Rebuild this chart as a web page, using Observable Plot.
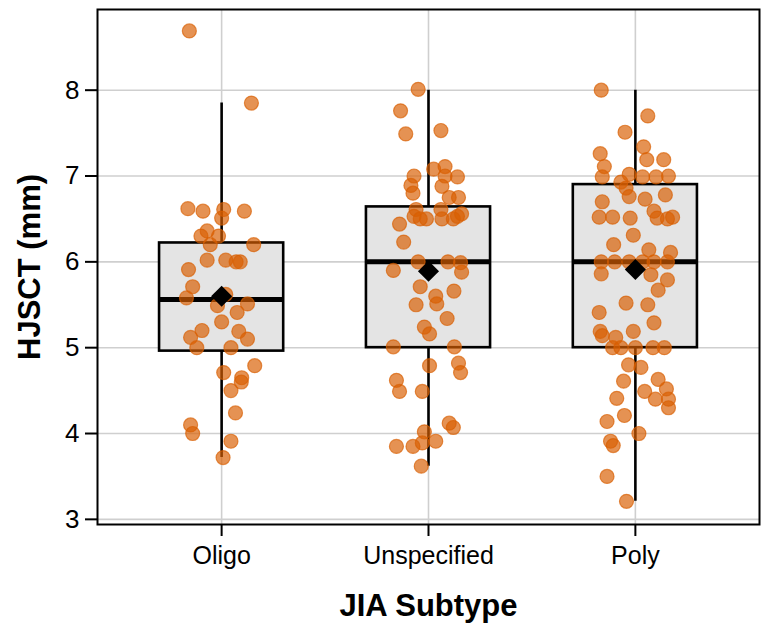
<!DOCTYPE html>
<html>
<head>
<meta charset="utf-8">
<script src="https://cdn.jsdelivr.net/npm/d3@7"></script>
<script src="https://cdn.jsdelivr.net/npm/@observablehq/plot@0.6"></script>
<style>
  body { margin: 0; background: #fff; }
  svg { display: block; }
</style>
</head>
<body>
<div id="chart"></div>
<script>
// JIA subtypes on the x axis
const subtypes = ["Oligo", "Unspecified", "Poly"];
const yTicks = [3, 4, 5, 6, 7, 8];

// HJSCT measurements (mm) per subtype, with the horizontal jitter of each point
// (in category units)
const oligoValues = [8.69, 7.85, 6.62, 6.59, 6.61, 6.51, 6.59, 6.36, 6.30, 6.30, 6.20, 6.20, 6.02, 6.02, 6.00, 6.00, 5.91, 5.71, 5.58, 5.62, 5.49, 5.51, 5.41, 5.30, 5.20, 5.12, 5.19, 5.10, 5.00, 5.00, 4.71, 4.79, 4.65, 4.60, 4.50, 4.24, 4.10, 4.00, 3.91, 3.72];
const oligoJitter = [-0.156, 0.144, -0.163, -0.09, 0.01, 0.0, 0.11, -0.07, -0.10, -0.015, -0.055, 0.155, -0.07, 0.02, 0.07, 0.09, -0.16, -0.14, -0.17, 0.02, -0.02, 0.125, 0.075, 0.0, -0.095, -0.15, 0.083, 0.125, -0.12, 0.045, 0.01, 0.16, 0.097, 0.095, 0.045, 0.067, -0.15, -0.14, 0.045, 0.007];

const unspecValues = [8.01, 7.76, 7.49, 7.53, 7.08, 7.11, 7.00, 7.00, 6.99, 6.89, 6.80, 6.88, 6.75, 6.75, 6.61, 6.53, 6.50, 6.61, 6.50, 6.50, 6.56, 6.53, 6.50, 6.44, 6.23, 6.00, 5.90, 6.00, 5.99, 5.88, 5.71, 5.66, 5.60, 5.50, 5.51, 5.34, 5.24, 5.16, 5.01, 5.01, 4.79, 4.82, 4.71, 4.62, 4.49, 4.49, 4.12, 4.07, 4.02, 3.89, 3.91, 3.85, 3.85, 3.62];
const unspecJitter = [-0.05, -0.135, -0.11, 0.06, 0.025, 0.08, -0.07, 0.08, 0.14, -0.085, -0.075, 0.065, 0.10, 0.145, -0.06, -0.07, -0.01, 0.06, 0.065, 0.12, 0.16, 0.14, -0.04, -0.14, -0.12, -0.05, -0.17, 0.094, 0.155, 0.16, -0.04, 0.123, 0.035, -0.06, 0.04, 0.09, -0.02, 0.005, -0.17, 0.125, 0.005, 0.145, 0.155, -0.155, -0.14, -0.03, 0.10, 0.12, -0.02, -0.03, 0.035, -0.155, -0.075, -0.035];

const polyValues = [8.00, 7.70, 7.51, 7.26, 7.34, 7.11, 7.19, 7.19, 6.99, 7.02, 6.99, 6.99, 7.00, 6.93, 6.86, 6.76, 6.73, 6.78, 6.70, 6.59, 6.52, 6.52, 6.51, 6.51, 6.50, 6.52, 6.31, 6.20, 6.14, 6.11, 6.00, 6.00, 6.00, 6.00, 6.00, 6.00, 5.86, 5.85, 5.79, 5.67, 5.52, 5.50, 5.41, 5.29, 5.19, 5.14, 5.12, 5.19, 5.00, 5.00, 5.00, 5.00, 5.00, 4.80, 4.77, 4.61, 4.63, 4.49, 4.52, 4.41, 4.40, 4.40, 4.30, 4.21, 4.14, 4.00, 3.91, 3.86, 3.50, 3.21];
const polyJitter = [-0.165, 0.06, -0.05, -0.17, 0.04, -0.15, 0.055, 0.137, -0.16, -0.03, 0.035, 0.10, 0.16, -0.07, -0.045, -0.03, 0.047, 0.145, -0.16, 0.09, -0.175, -0.11, -0.025, 0.105, 0.155, 0.18, -0.01, -0.105, 0.065, 0.17, -0.165, -0.10, -0.03, 0.035, 0.09, 0.155, -0.165, 0.075, 0.155, 0.11, -0.045, 0.06, -0.175, 0.09, -0.17, -0.16, -0.095, -0.01, -0.11, -0.07, 0.0, 0.085, 0.14, -0.033, 0.027, -0.057, 0.11, 0.045, 0.15, -0.09, 0.097, 0.16, 0.16, -0.053, -0.137, 0.017, -0.12, -0.107, -0.137, -0.043];

// Box-plot summary per subtype (mm)
const whiskerLow  = [3.72, 3.62, 3.21];
const lowerQuart  = [4.96, 5.00, 5.00];
const medians     = [5.56, 6.00, 6.00];
const upperQuart  = [6.22, 6.64, 6.90];
const whiskerHigh = [7.85, 8.00, 8.00];
const means       = [5.60, 5.89, 5.91];

const groups = [
  [oligoValues, oligoJitter],
  [unspecValues, unspecJitter],
  [polyValues, polyJitter]
];

const points = groups.flatMap(([vals, jit], i) =>
  vals.map((v, j) => ({subtype: subtypes[i], pos: i + 1 + jit[j], value: v}))
);

const boxHalf = 0.3;
const summary = subtypes.map((s, i) => ({
  subtype: s,
  pos: i + 1,
  lo: whiskerLow[i],
  q1: lowerQuart[i],
  median: medians[i],
  q3: upperQuart[i],
  hi: whiskerHigh[i],
  mean: means[i]
}));

const font = "'Liberation Sans', Arial, Helvetica, sans-serif";

const chart = Plot.plot({
  width: 766,
  height: 629,
  marginLeft: 97,
  marginRight: 7,
  marginTop: 9,
  marginBottom: 105,
  style: {fontFamily: font, fontSize: "26px", color: "black", background: "white"},
  x: {domain: [0.4, 3.6]},
  y: {domain: [2.94, 8.94]},
  marks: [
    Plot.gridY(yTicks, {stroke: "#cfcfcf", strokeOpacity: 1, strokeWidth: 1.6}),
    Plot.gridX([1, 2, 3], {stroke: "#cfcfcf", strokeOpacity: 1, strokeWidth: 1.6}),
    Plot.ruleX(summary, {x: "pos", y1: "lo", y2: "hi", stroke: "black", strokeWidth: 2.6}),
    Plot.rect(summary, {
      x1: d => d.pos - boxHalf, x2: d => d.pos + boxHalf,
      y1: "q1", y2: "q3",
      fill: "#e4e4e4", stroke: "black", strokeWidth: 2.6
    }),
    Plot.ruleY(summary, {
      y: "median", x1: d => d.pos - boxHalf, x2: d => d.pos + boxHalf,
      stroke: "black", strokeWidth: 5
    }),
    Plot.dot(points, {
      x: "pos", y: "value", r: 7,
      fill: "#D95F02", fillOpacity: 0.68,
      stroke: "#D95F02", strokeOpacity: 0.68, strokeWidth: 1.2
    }),
    Plot.dot(summary, {x: "pos", y: "mean", symbol: "diamond2", r: 9.5, fill: "black", stroke: "none"}),
    Plot.frame({stroke: "black", strokeWidth: 2}),
    Plot.axisY(yTicks, {
      tickSize: 12, tickPadding: 6, strokeWidth: 2, label: null,
      tickFormat: d => String(d), fontSize: 26, fill: "black"
    }),
    Plot.axisX([1, 2, 3], {
      tickSize: 12, tickPadding: 10, strokeWidth: 2, label: null,
      tickFormat: d => subtypes[d - 1], fontSize: 25, fill: "black"
    }),
    Plot.text(["JIA Subtype"], {
      frameAnchor: "bottom", dy: 82, lineAnchor: "middle", textAnchor: "middle",
      fontSize: 31, fontWeight: "bold", fill: "black"
    }),
    Plot.text(["HJSCT (mm)"], {
      frameAnchor: "left", dx: -67, rotate: -90, lineAnchor: "middle", textAnchor: "middle",
      fontSize: 31, fontWeight: "bold", fill: "black"
    })
  ]
});

document.getElementById("chart").appendChild(chart);
</script>
</body>
</html>
